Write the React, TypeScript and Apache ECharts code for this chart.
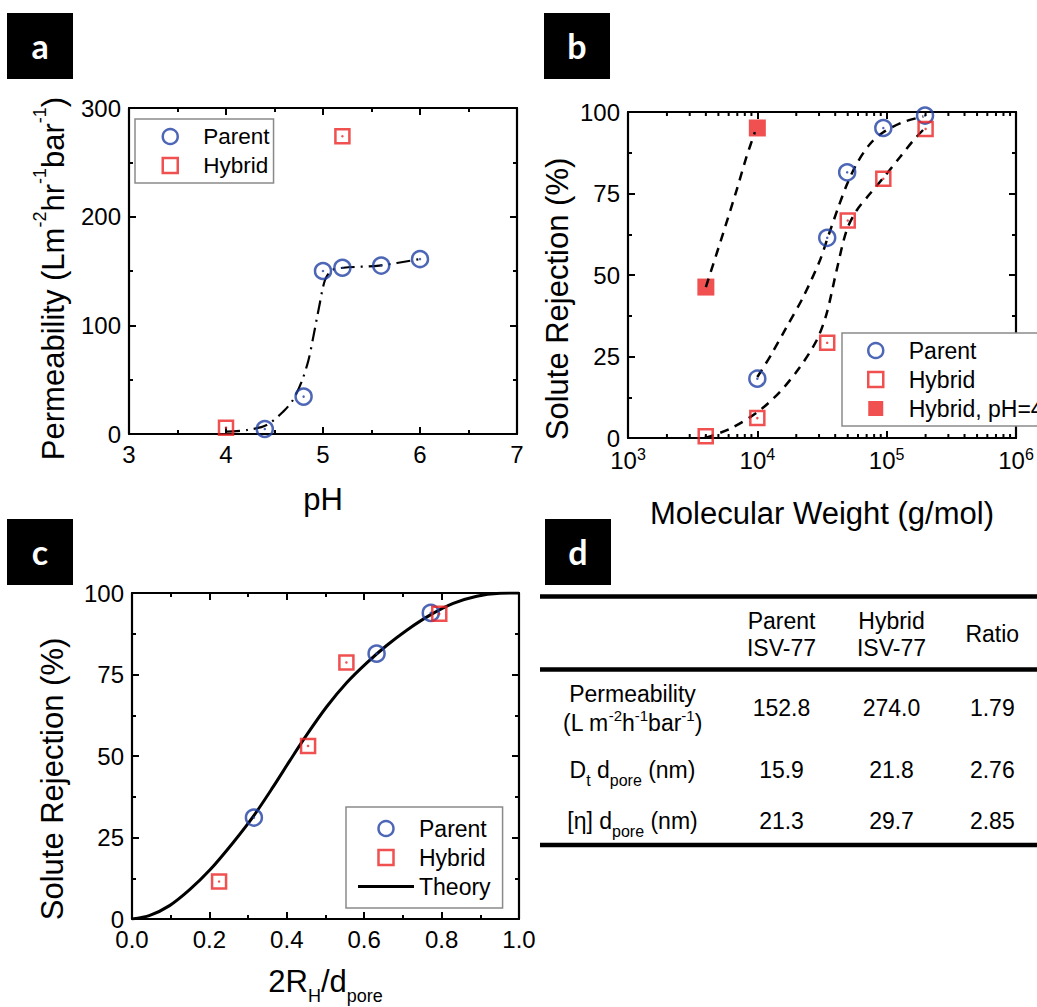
import React, { useEffect, useRef } from 'react';
import * as echarts from 'echarts';

const BLUE = '#2040a4';
const RED = '#ec2424';
const FONT = 'Liberation Sans, Arial, Helvetica, sans-serif';

// ---- Panel a: permeability vs pH ----
const phParent = [4.4, 4.8, 5.0, 5.2, 5.6, 6.0];
const permParent = [4.6, 34.4, 150, 153, 155, 161];
const phHybrid = [4.0, 5.2];
const permHybrid = [5.8, 274];
const phFit = [4.0, 4.22, 4.42, 4.59, 4.69, 4.78, 4.85, 4.9, 4.96, 5.02, 5.09, 5.21, 5.58, 6.0];
const permFit = [2.1, 3.7, 8.3, 20.6, 31.3, 48.2, 67.9, 89.4, 117, 141.5, 150.7, 153, 155, 161];

// ---- Panel b: rejection vs molecular weight ----
const mwParent = [10000, 34700, 49500, 94200, 198000];
const rejParent = [18.2, 61.4, 81.5, 95.1, 98.9];
const mwHybrid = [3990, 10000, 34700, 50000, 94200, 200000];
const rejHybrid = [0.5, 6.1, 29.2, 66.7, 79.5, 94.8];
const mwHybridPH4 = [4000, 10000];
const rejHybridPH4 = [46.3, 95.1];
const mwFitPH4 = [4000, 5430, 6900, 8240, 9570];
const rejFitPH4 = [46.3, 62.7, 75.9, 86.2, 93.8];
const mwFitParent = [10000, 12900, 16800, 22600, 30500, 34700, 42300, 49000, 58600, 74300, 94200, 134000, 192000];
const rejFitParent = [18.7, 25.8, 34, 43.2, 54.5, 61, 70.8, 77.5, 84.1, 90.2, 93.8, 96.9, 98.6];
const mwFitHybrid = [3950, 6120, 10000, 14900, 21300, 28700, 34300, 41000, 49000, 58600, 74300, 94200, 127000, 161000, 200000];
const rejFitHybrid = [0, 2.8, 7.9, 14.1, 21.7, 29.9, 38.1, 51.4, 63.7, 69.8, 74.9, 79.8, 86.2, 91.3, 95.3];

// ---- Panel c: rejection vs 2RH/dpore ----
const ratioParent = [0.315, 0.632, 0.772];
const rejCParent = [31.1, 81.4, 93.9];
const ratioHybrid = [0.225, 0.455, 0.554, 0.794];
const rejCHybrid = [11.5, 53.1, 78.7, 93.6];
const ratioTheory = [0, 0.046, 0.097, 0.149, 0.201, 0.261, 0.313, 0.365, 0.408, 0.451, 0.503, 0.554, 0.606, 0.658, 0.71, 0.77, 0.83, 0.891, 0.951, 1.0];
const rejTheory = [0, 1.1, 4.1, 9.0, 15.0, 23.4, 31.4, 40.6, 48.6, 56.4, 65.1, 72.4, 78.5, 83.9, 88.6, 93.2, 96.8, 99.0, 99.9, 100];

// ---- Panel d: table ----
const tableColumns = ['Parent\nISV-77', 'Hybrid\nISV-77', 'Ratio'];
const tableRowLabels = [
  'Permeability\n(L m{sup|-2}h{sup|-1}bar{sup|-1})',
  'D{sub|t} d{sub|pore} (nm)',
  '[η] d{sub|pore} (nm)',
];
const parentValues = ['152.8', '15.9', '21.3'];
const hybridValues = ['274.0', '21.8', '29.7'];
const ratioValues = ['1.79', '2.76', '2.85'];

const panelLetters = ['a', 'b', 'c', 'd'];

const zip = (a: number[], b: number[]) => a.map((v, i) => [v, b[i]]);

const logMinorTicks: number[] = [];
for (let d = 3; d < 6; d++) for (let k = 2; k <= 9; k++) logMinorTicks.push(k * Math.pow(10, d));

const SQUARE = 'path://M0,0H10V10H0Z';
const BAR = 'path://M0,0H52V3H0Z';

const axisBase = (labels: boolean, minor = true) => ({
  axisLine: { show: true, onZero: false, lineStyle: { color: '#000', width: 2.2 } },
  axisTick: { show: true, inside: true, length: 7, lineStyle: { color: '#000', width: 2 } },
  minorTick: { show: minor, splitNumber: 2, length: 4, lineStyle: { color: '#000', width: 2 } },
  splitLine: { show: false },
  minorSplitLine: { show: false },
  axisLabel: { show: labels, color: '#000', fontSize: 24, margin: 8, fontFamily: FONT },
});

const nameStyle = (extra: any = {}) => ({ fontSize: 31, color: '#000', fontFamily: FONT, lineHeight: 36, ...extra });

const openStyle = (c: string) => ({ color: 'rgba(0,0,0,0)', borderColor: c, borderWidth: 2.5 });

const legendCommon = {
  orient: 'vertical',
  itemWidth: 56,
  itemHeight: 15,
  itemGap: 6,
  borderColor: '#8a8a8a',
  borderWidth: 1.5,
  backgroundColor: '#fff',
  selectedMode: false,
  textStyle: { fontSize: 23, lineHeight: 23, color: '#000', fontFamily: FONT },
};

const legParent = { name: 'Parent', icon: 'circle', itemStyle: openStyle(BLUE) };
const legHybrid = { name: 'Hybrid', icon: SQUARE, itemStyle: openStyle(RED) };

export default function App() {
  const ref = useRef<HTMLDivElement>(null);
  useEffect(() => {
    if (!ref.current) return;
    const chart = echarts.init(ref.current, undefined, { renderer: 'svg' });

    const dot = (name: string, xi: number, data: number[][], color: string) => ({
      type: 'scatter', name, xAxisIndex: xi, yAxisIndex: xi, data, symbol: 'circle', symbolSize: 2.5,
      itemStyle: { color }, silent: true, z: 4,
    });

    const graphic: any[] = [];
    const boxes = [[7, 13], [544, 13], [7, 519], [545, 519]];
    panelLetters.forEach((l, i) => {
      const [x, y] = boxes[i];
      graphic.push({ type: 'rect', x, y, shape: { x: 0, y: 0, width: 66, height: 66 }, style: { fill: '#000' } });
      graphic.push({
        type: 'text', x: x + 33, y: y + 32,
        style: { text: l, fill: '#fff', fontSize: 34, fontWeight: 'bold', fontFamily: 'Lato, Open Sans, sans-serif', align: 'center', verticalAlign: 'middle', textAlign: 'center', textVerticalAlign: 'middle' },
      });
    });
    [596.5, 669.5, 845].forEach((y) => {
      graphic.push({ type: 'line', shape: { x1: 540, y1: y, x2: 1040, y2: y }, style: { stroke: '#000', lineWidth: 4.5 } });
    });
    const colX = [781.5, 891.5, 992.3];
    const rowY = [708, 770, 821];
    const txt = (text: string, x: number, y: number, lineHeight: number) => ({
      type: 'text', x, y,
      style: {
        text, fill: '#000', fontSize: 23, fontFamily: FONT, lineHeight,
        align: 'center', verticalAlign: 'middle', textAlign: 'center', textVerticalAlign: 'middle',
        rich: {
          sup: { fontSize: 15, lineHeight: 16, verticalAlign: 'top', fontFamily: FONT, fill: '#000' },
          sub: { fontSize: 16, lineHeight: 14, verticalAlign: 'bottom', fontFamily: FONT, fill: '#000' },
        },
      },
    });
    tableColumns.forEach((c, i) => graphic.push(txt(c, colX[i], 634, 27)));
    tableRowLabels.forEach((l, i) => graphic.push(txt(l, 632.5, rowY[i], i === 0 ? 29 : 36)));
    parentValues.forEach((v, i) => graphic.push(txt(v, colX[0], rowY[i], 28)));
    hybridValues.forEach((v, i) => graphic.push(txt(v, colX[1], rowY[i], 28)));
    ratioValues.forEach((v, i) => graphic.push(txt(v, colX[2], rowY[i], 28)));

    const option: any = {
      animation: false,
      textStyle: { fontFamily: FONT },
      grid: [
        { left: 129, top: 108, width: 388, height: 326, outerBoundsMode: 'none' },
        { left: 628, top: 112, width: 388, height: 326, outerBoundsMode: 'none' },
        { left: 132, top: 593, width: 387, height: 326, outerBoundsMode: 'none' },
      ],
      xAxis: [
        {
          gridIndex: 0, type: 'value', min: 3, max: 7, interval: 1, position: 'bottom',
          name: 'pH', nameLocation: 'middle', nameGap: 47, nameTextStyle: nameStyle(), ...axisBase(true),
        },
        { gridIndex: 0, type: 'value', min: 3, max: 7, interval: 1, position: 'top', ...axisBase(false) },
        {
          gridIndex: 1, type: 'log', logBase: 10, min: 1000, max: 1000000, position: 'bottom',
          name: 'Molecular Weight (g/mol)', nameLocation: 'middle', nameGap: 57, nameTextStyle: nameStyle(),
          ...axisBase(true, false),
          axisLabel: {
            color: '#000', fontSize: 24, margin: 8, fontFamily: FONT, lineHeight: 28,
            formatter: (v: number) => '10{sup|' + Math.round(Math.log10(v)) + '}',
            rich: { sup: { fontSize: 16, lineHeight: 14, verticalAlign: 'top', fontFamily: FONT, color: '#000' } },
          },
        },
        { gridIndex: 1, type: 'log', logBase: 10, min: 1000, max: 1000000, position: 'top', ...axisBase(false, false) },
        {
          gridIndex: 2, type: 'value', min: 0, max: 1, interval: 0.2, position: 'bottom',
          name: '2R{sub|H}/d{sub|pore}', nameLocation: 'middle', nameGap: 38,
          nameTextStyle: nameStyle({ lineHeight: 48, rich: { sub: { fontSize: 18, lineHeight: 12, verticalAlign: 'bottom', fontFamily: FONT, color: '#000' } } }),
          ...axisBase(true),
          axisLabel: { color: '#000', fontSize: 24, margin: 8, fontFamily: FONT, formatter: (v: number) => v.toFixed(1) },
        },
        { gridIndex: 2, type: 'value', min: 0, max: 1, interval: 0.2, position: 'top', ...axisBase(false) },
      ],
      yAxis: [
        {
          gridIndex: 0, type: 'value', min: 0, max: 300, interval: 100, position: 'left',
          name: 'Permeability (Lm{sup|-2}hr{sup|-1}bar{sup|-1})', nameLocation: 'middle', nameGap: 54,
          nameTextStyle: nameStyle({ lineHeight: 44, padding: [0, 15, 0, 0], rich: { sup: { fontSize: 18, lineHeight: 16, verticalAlign: 'top', fontFamily: FONT, color: '#000' } } }),
          ...axisBase(true),
        },
        { gridIndex: 0, type: 'value', min: 0, max: 300, interval: 100, position: 'right', ...axisBase(false) },
        {
          gridIndex: 1, type: 'value', min: 0, max: 100, interval: 25, position: 'left',
          name: 'Solute Rejection (%)', nameLocation: 'middle', nameGap: 53,
          nameTextStyle: nameStyle({ padding: [0, 48, 0, 0] }), ...axisBase(true),
        },
        { gridIndex: 1, type: 'value', min: 0, max: 100, interval: 25, position: 'right', ...axisBase(false) },
        {
          gridIndex: 2, type: 'value', min: 0, max: 100, interval: 25, position: 'left',
          name: 'Solute Rejection (%)', nameLocation: 'middle', nameGap: 62,
          nameTextStyle: nameStyle({ padding: [0, 46, 0, 0] }), ...axisBase(true),
        },
        { gridIndex: 2, type: 'value', min: 0, max: 100, interval: 25, position: 'right', ...axisBase(false) },
      ],
      legend: [
        { ...legendCommon, left: 135, top: 119, padding: [6, 4, 6, 26.5], textStyle: { ...legendCommon.textStyle, fontSize: 22.5 }, data: [legParent, legHybrid] },
        {
          ...legendCommon, left: 842, top: 333, padding: [6, 10, 6, 25],
          data: [legParent, legHybrid, { name: 'Hybrid, pH=4', icon: SQUARE, itemStyle: { color: RED, borderWidth: 0 } }],
        },
        {
          ...legendCommon, left: 346, top: 807, padding: [10, 12, 10, 12],
          data: [legParent, legHybrid, { name: 'Theory', icon: BAR, itemStyle: { color: '#000', borderWidth: 0 } }],
        },
      ],
      series: [
        // panel a
        {
          type: 'line', name: 'Fit a', xAxisIndex: 0, yAxisIndex: 0, data: zip(phFit, permFit), symbol: 'none', smooth: 0.3,
          lineStyle: { color: '#000', width: 2.2, type: [14, 6, 2, 6] }, silent: true, z: 2,
        },
        { type: 'scatter', name: 'Parent', xAxisIndex: 0, yAxisIndex: 0, data: zip(phParent, permParent), symbol: 'circle', symbolSize: 16, itemStyle: openStyle(BLUE), z: 3 },
        { type: 'scatter', name: 'Hybrid', xAxisIndex: 0, yAxisIndex: 0, data: zip(phHybrid, permHybrid), symbol: 'rect', symbolSize: 14, itemStyle: openStyle(RED), z: 3 },
        dot('Parent center a', 0, zip(phParent, permParent), BLUE),
        dot('Hybrid center a', 0, zip(phHybrid, permHybrid), RED),
        // panel b
        ...[[mwFitPH4, rejFitPH4], [mwFitParent, rejFitParent], [mwFitHybrid, rejFitHybrid]].map(([x, y], i) => ({
          type: 'line', name: 'Fit b' + i, xAxisIndex: 2, yAxisIndex: 2, data: zip(x, y), symbol: 'none', smooth: 0.3,
          lineStyle: { color: '#000', width: 2.5, type: [9, 7] }, silent: true, z: 2,
        })),
        { type: 'scatter', name: 'Parent', xAxisIndex: 2, yAxisIndex: 2, data: zip(mwParent, rejParent), symbol: 'circle', symbolSize: 16, itemStyle: openStyle(BLUE), z: 3 },
        { type: 'scatter', name: 'Hybrid', xAxisIndex: 2, yAxisIndex: 2, data: zip(mwHybrid, rejHybrid), symbol: 'rect', symbolSize: 14, itemStyle: openStyle(RED), z: 3 },
        { type: 'scatter', name: 'Hybrid, pH=4', xAxisIndex: 2, yAxisIndex: 2, data: zip(mwHybridPH4, rejHybridPH4), symbol: 'rect', symbolSize: 17, itemStyle: { color: RED }, z: 1 },
        dot('Parent center b', 2, zip(mwParent, rejParent), BLUE),
        dot('Hybrid center b', 2, zip(mwHybrid, rejHybrid), RED),
        {
          type: 'custom', name: 'log minor ticks', xAxisIndex: 2, yAxisIndex: 2, silent: true, clip: false, z: 5,
          data: logMinorTicks.map((v) => [v, 0]),
          renderItem: (_p: any, api: any) => {
            const v = api.value(0);
            const b = api.coord([v, 0]);
            const t = api.coord([v, 100]);
            const st = { stroke: '#000', lineWidth: 2 };
            return {
              type: 'group',
              children: [
                { type: 'line', shape: { x1: b[0], y1: b[1], x2: b[0], y2: b[1] - 4 }, style: st },
                { type: 'line', shape: { x1: t[0], y1: t[1], x2: t[0], y2: t[1] + 4 }, style: st },
              ],
            };
          },
        },
        // panel c
        {
          type: 'line', name: 'Theory', xAxisIndex: 4, yAxisIndex: 4, data: zip(ratioTheory, rejTheory), symbol: 'none', smooth: 0.3,
          lineStyle: { color: '#000', width: 3 }, itemStyle: { color: '#000' }, z: 2,
        },
        { type: 'scatter', name: 'Parent', xAxisIndex: 4, yAxisIndex: 4, data: zip(ratioParent, rejCParent), symbol: 'circle', symbolSize: 16, itemStyle: openStyle(BLUE), z: 3 },
        { type: 'scatter', name: 'Hybrid', xAxisIndex: 4, yAxisIndex: 4, data: zip(ratioHybrid, rejCHybrid), symbol: 'rect', symbolSize: 14, itemStyle: openStyle(RED), z: 3 },
        dot('Parent center c', 4, zip(ratioParent, rejCParent), BLUE),
        dot('Hybrid center c', 4, zip(ratioHybrid, rejCHybrid), RED),
      ],
      graphic,
    };
    chart.setOption(option);
    return () => chart.dispose();
  }, []);
  return <div ref={ref} style={{ position: 'fixed', left: 0, top: 0, width: 1037, height: 1007, background: '#fff' }} />;
}
